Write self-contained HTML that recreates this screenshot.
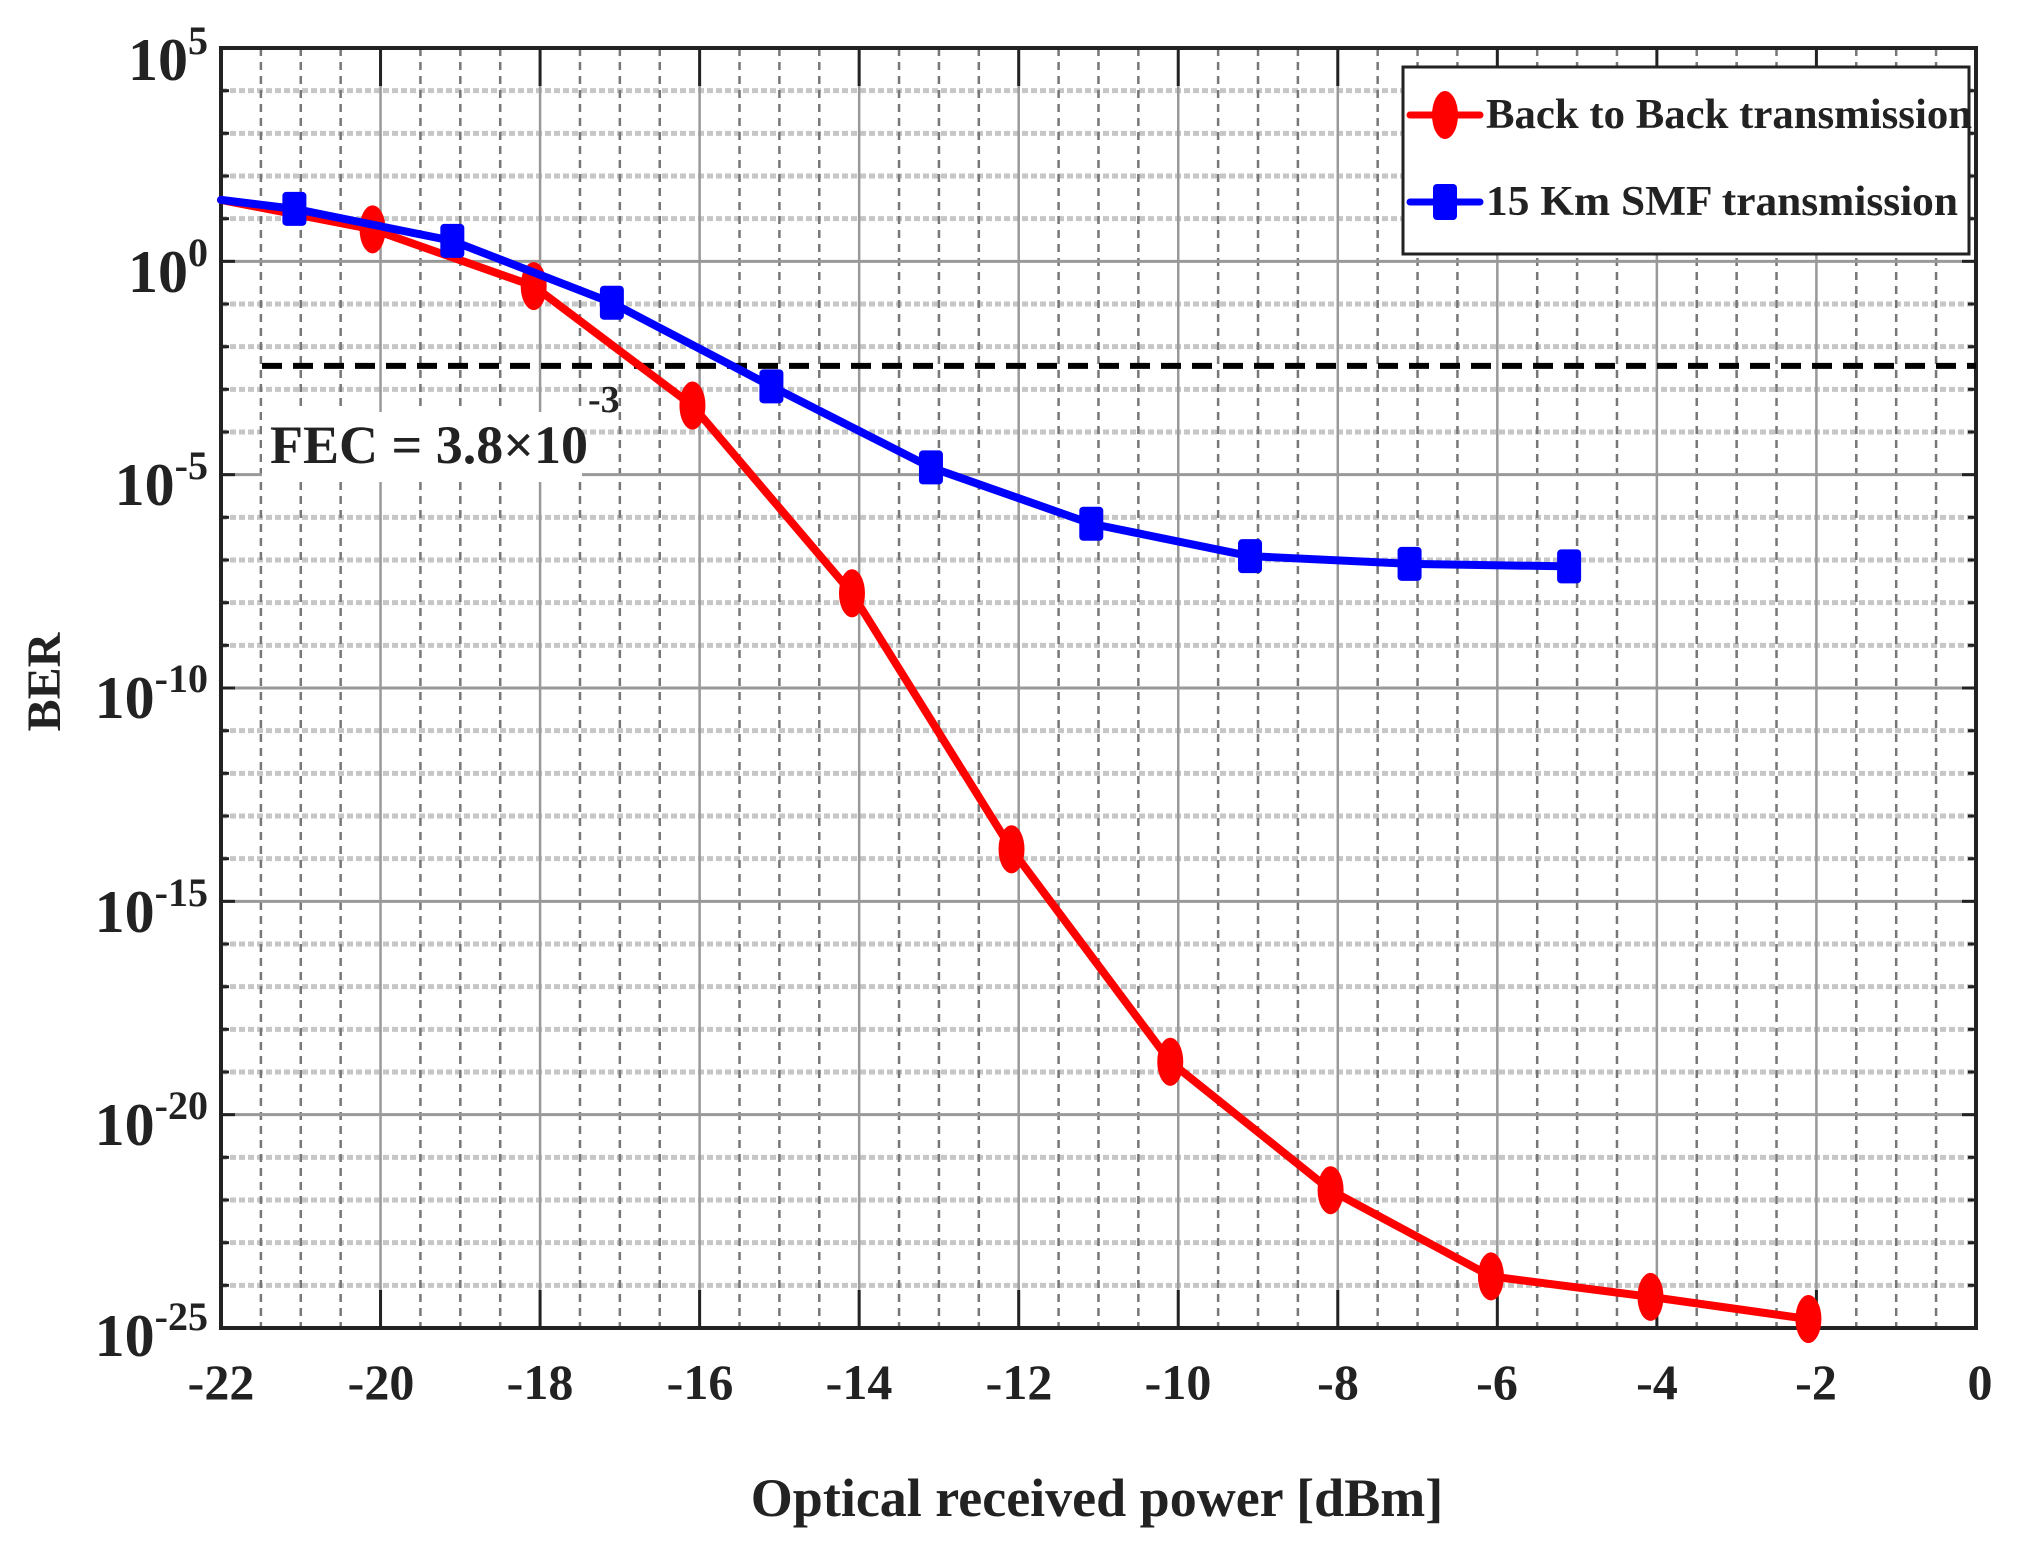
<!DOCTYPE html>
<html><head><meta charset="utf-8"><style>
html,body{margin:0;padding:0;background:#fff;}
svg{display:block;}
text{font-family:"Liberation Serif",serif;font-weight:bold;fill:#222;}
</style></head><body>
<svg id="s" width="2018" height="1545" viewBox="0 0 2018 1545" xmlns="http://www.w3.org/2000/svg">
<g id="grid"></g>
<g id="data"></g>
<!-- FEC label -->
<rect x="262" y="412" width="320" height="70" fill="#fff"/>
<text x="270" y="463" font-size="54">FEC = 3.8×10</text>
<text x="588" y="412" font-size="38">-3</text>
<!-- legend -->
<rect x="1403" y="67" width="566" height="187" fill="#fff" stroke="#222" stroke-width="3"/>
<line x1="1410" y1="115" x2="1480" y2="115" stroke="#f00" stroke-width="7" stroke-linecap="round"/>
<ellipse cx="1445" cy="115" rx="13" ry="24" fill="#f00"/>
<text x="1486" y="128" font-size="42" fill="#000" textLength="486" lengthAdjust="spacingAndGlyphs">Back to Back transmission</text>
<line x1="1410" y1="202" x2="1480" y2="202" stroke="#00f" stroke-width="7" stroke-linecap="round"/>
<rect x="1433" y="184" width="24" height="36" rx="4" fill="#00f"/>
<text x="1486" y="215" font-size="42" fill="#000" textLength="472" lengthAdjust="spacingAndGlyphs">15 Km SMF transmission</text>
<!-- x tick labels -->
<g font-size="50" text-anchor="middle">
<text x="221" y="1399">-22</text><text x="381" y="1399">-20</text><text x="540" y="1399">-18</text>
<text x="700" y="1399">-16</text><text x="859" y="1399">-14</text><text x="1019" y="1399">-12</text>
<text x="1178" y="1399">-10</text><text x="1338" y="1399">-8</text><text x="1497" y="1399">-6</text>
<text x="1657" y="1399">-4</text><text x="1816" y="1399">-2</text><text x="1980" y="1399">0</text>
</g>
<!-- y tick labels -->
<g font-size="60" text-anchor="end">
<text x="208" y="80">10<tspan font-size="40" dy="-26">5</tspan></text>
<text x="208" y="292">10<tspan font-size="40" dy="-26">0</tspan></text>
<text x="208" y="505">10<tspan font-size="40" dy="-26">-5</tspan></text>
<text x="208" y="718">10<tspan font-size="40" dy="-26">-10</tspan></text>
<text x="208" y="932">10<tspan font-size="40" dy="-26">-15</tspan></text>
<text x="208" y="1145">10<tspan font-size="40" dy="-26">-20</tspan></text>
<text x="208" y="1356">10<tspan font-size="40" dy="-26">-25</tspan></text>
</g>
<text x="1097" y="1516" font-size="54" text-anchor="middle">Optical received power [dBm]</text>
<text transform="translate(60,682) rotate(-90)" font-size="48" text-anchor="middle">BER</text>
</svg>
<script>
var NS="http://www.w3.org/2000/svg";
function X(v){return 221+(v+22)*79.77;}
function Y(L){return 48+(5-L)*42.667;}
function el(p,t,a){var e=document.createElementNS(NS,t);for(var k in a)e.setAttribute(k,a[k]);p.appendChild(e);return e;}
var g=document.getElementById('grid'),d=document.getElementById('data');
var L=221,R=1976,T=48,B=1328;
for(var k=5;k>=-25;k--){if(k%5!==0)el(g,'line',{x1:L,x2:R,y1:Y(k),y2:Y(k),stroke:'#c6c6c6','stroke-width':5,'stroke-dasharray':'6,3'});}
for(var v=-22;v<=0;v+=0.5){if(Math.abs(v%2)>0.01)el(g,'line',{x1:X(v),x2:X(v),y1:T,y2:B,stroke:'#777','stroke-width':2.5,'stroke-dasharray':'8,6'});}
for(var k=0;k>=-20;k-=5)el(g,'line',{x1:L,x2:R,y1:Y(k),y2:Y(k),stroke:'#999','stroke-width':3});
for(var v=-20;v<0;v+=2)el(g,'line',{x1:X(v),x2:X(v),y1:T,y2:B,stroke:'#999','stroke-width':2.5});
for(var v=-20;v<0;v+=2){el(g,'line',{x1:X(v),x2:X(v),y1:T,y2:T+38,stroke:'#222','stroke-width':3});el(g,'line',{x1:X(v),x2:X(v),y1:B,y2:B-38,stroke:'#222','stroke-width':3});}
for(var k=5;k>=-25;k--){var len=(k%5===0)?14:8;el(g,'line',{x1:L,x2:L+len,y1:Y(k),y2:Y(k),stroke:'#222','stroke-width':3});el(g,'line',{x1:R,x2:R-len,y1:Y(k),y2:Y(k),stroke:'#222','stroke-width':3});}
el(g,'rect',{x:L,y:T,width:R-L,height:B-T,fill:'none',stroke:'#222','stroke-width':4});
el(d,'line',{x1:262,x2:R,y1:Y(-2.45),y2:Y(-2.45),stroke:'#000','stroke-width':6,'stroke-dasharray':'20,11'});
var red=[[-22,1.44],[-20.1,0.75],[-18.08,-0.58],[-16.09,-3.38],[-14.09,-7.78],[-12.09,-13.78],[-10.1,-18.76],[-8.09,-21.77],[-6.08,-23.79],[-4.08,-24.27],[-2.1,-24.79]];
var blue=[[-22,1.44],[-21.08,1.23],[-19.1,0.48],[-17.1,-0.97],[-15.1,-2.93],[-13.1,-4.83],[-11.09,-6.15],[-9.1,-6.91],[-7.1,-7.09],[-5.1,-7.15]];
function pts(a){return a.map(function(p){return X(p[0])+','+Y(p[1]);}).join(' ');}
el(d,'polyline',{points:pts(red),fill:'none',stroke:'#f00','stroke-width':8,'stroke-linejoin':'round','stroke-linecap':'round'});
red.slice(1).forEach(function(p){el(d,'ellipse',{cx:X(p[0]),cy:Y(p[1]),rx:13,ry:24,fill:'#f00'});});
el(d,'polyline',{points:pts(blue),fill:'none',stroke:'#00f','stroke-width':8,'stroke-linejoin':'round','stroke-linecap':'round'});
blue.slice(1).forEach(function(p){el(d,'rect',{x:X(p[0])-12,y:Y(p[1])-17,width:24,height:34,rx:4,fill:'#00f'});});
</script>
</body></html>
